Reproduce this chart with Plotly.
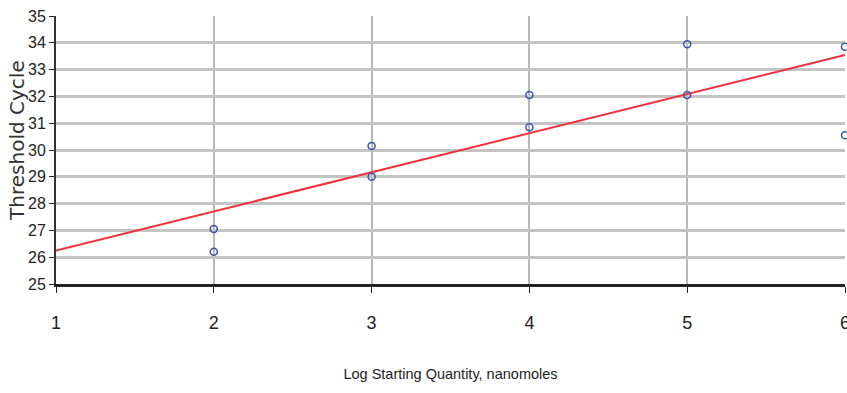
import plotly.graph_objects as go

# Data
log_qty = [2, 2, 3, 3, 4, 4, 5, 5, 6, 6]
threshold_cycle = [27.05, 26.2, 30.15, 29.0, 32.05, 30.85, 33.95, 32.05, 33.85, 30.55]
trend_x = [1, 6]
trend_y = [26.25, 33.55]
x_ticks = [1, 2, 3, 4, 5, 6]
y_ticks = list(range(25, 36))

fig = go.Figure()
fig.add_trace(go.Scatter(x=trend_x, y=trend_y, mode="lines",
                         line=dict(color="#f0303c", width=2), hoverinfo="skip",
                         cliponaxis=False))
fig.add_trace(go.Scatter(x=log_qty, y=threshold_cycle, mode="markers",
                         cliponaxis=False,
                         marker=dict(symbol="circle-open", size=7,
                                     color="#3a55a8", line=dict(width=1.5))))

font_ticks = "Liberation Sans, Arial"

fig.update_layout(
    width=847, height=393,
    margin=dict(l=56, r=2, t=16, b=109, autoexpand=False),
    paper_bgcolor="white", plot_bgcolor="white",
    showlegend=False,
    xaxis=dict(range=[1, 6], tickvals=x_ticks, ticks="outside", ticklen=6,
               tickcolor="#222", tickfont=dict(family=font_ticks, size=18, color="#222"),
               ticklabelstandoff=14, ticklabeloverflow="allow", automargin=False,
               showgrid=True, gridcolor="#b8b8b8", gridwidth=1.5,
               showline=True, linecolor="#222", linewidth=3,
               zeroline=False,
               title=dict(text="Log Starting Quantity, nanomoles",
                          font=dict(family=font_ticks, size=14.5, color="#222"),
                          standoff=38)),
    yaxis=dict(range=[25, 35], tickvals=y_ticks, ticks="outside", ticklen=5,
               tickcolor="#222", tickfont=dict(family=font_ticks, size=16, color="#222"),
               ticklabelstandoff=0, ticklabeloverflow="allow", automargin=False,
               showgrid=True, gridcolor="#c4c4c4", gridwidth=2.5,
               showline=True, linecolor="#333", linewidth=2,
               zeroline=False),
    annotations=[dict(text="Threshold Cycle", textangle=-90, showarrow=False,
                      xref="paper", yref="paper", x=0, y=0.534,
                      xanchor="center", yanchor="middle", xshift=-39,
                      font=dict(family="DejaVu Sans, Verdana", size=20, color="#333"))],
)

fig.write_html("out.html",
               config={"displayModeBar": False},
               post_script="document.body.style.margin='0';document.body.style.overflow='hidden';")
